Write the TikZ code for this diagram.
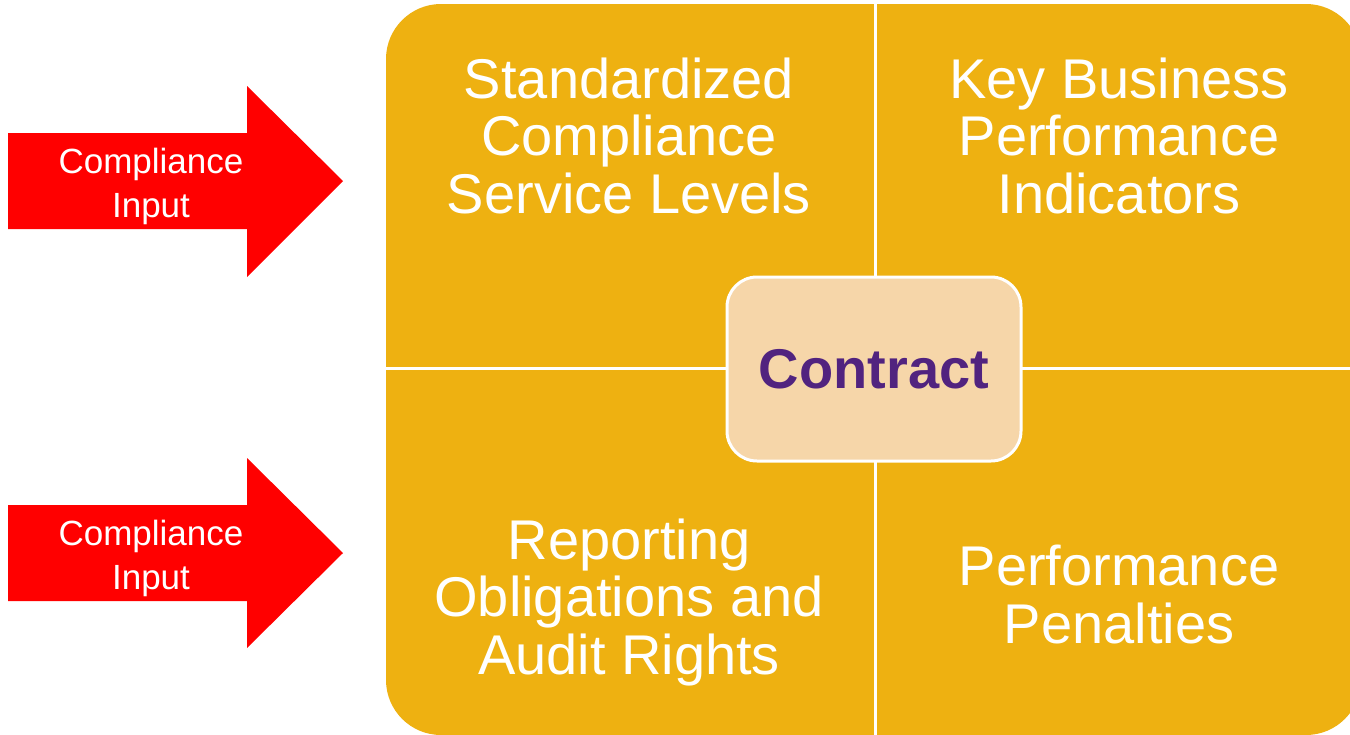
\documentclass[tikz,border=0pt]{standalone}
\usepackage{fontspec}
\setmainfont{Liberation Sans}
\usetikzlibrary{positioning}
\definecolor{gold}{HTML}{EEB111}
\definecolor{sand}{HTML}{F6D6A9}
\definecolor{grape}{HTML}{51237F}
\definecolor{alarm}{HTML}{FF0000}
\tikzset{
  quad/.style={text=white, align=center, anchor=base,
    font=\fontsize{56}{57.5}\selectfont},
  feed/.style={text=white, align=center,
    font=\fontsize{35}{44}\selectfont},
  divider/.style={white, line width=3pt}
}
\begin{document}
\begin{tikzpicture}[x=1pt,y=-1pt]
\useasboundingbox (0,0) rectangle (1350,734);
% matrix background
\fill[gold, rounded corners=55pt] (386,4) rectangle (1361,735);
\draw[divider] (875,4) -- (875,735);
\draw[divider] (386,368) -- (1361,368);
% input arrows
\fill[alarm] (8,133) -- (247,133) -- (247,86) -- (343,181) -- (247,277) -- (247,229) -- (8,229) -- cycle;
\fill[alarm] (8,505) -- (247,505) -- (247,458) -- (343,553) -- (247,648) -- (247,601) -- (8,601) -- cycle;
\node[feed] (input1) at (151,186) {Compliance\\Input};
\node[feed] (input2) at (151,558) {Compliance\\Input};
% quadrants (base = last line)
\node[quad] (levels) at (629,213) {Standardized\\Compliance\\Service Levels};
\node[quad] (kpi) at (1119,213) {Key Business\\Performance\\Indicators};
\node[quad] (audit) at (629,674) {Reporting\\Obligations and\\Audit Rights};
\node[quad] (penalty) at (1119,643) {Performance\\Penalties};
% centre
\node[draw=white, line width=3pt, fill=sand, rounded corners=30pt,
  minimum width=294pt, minimum height=184pt,
  text=grape, font=\fontsize{56}{60}\selectfont\bfseries] (contract) at (874,369) {Contract};
\end{tikzpicture}
\end{document}
